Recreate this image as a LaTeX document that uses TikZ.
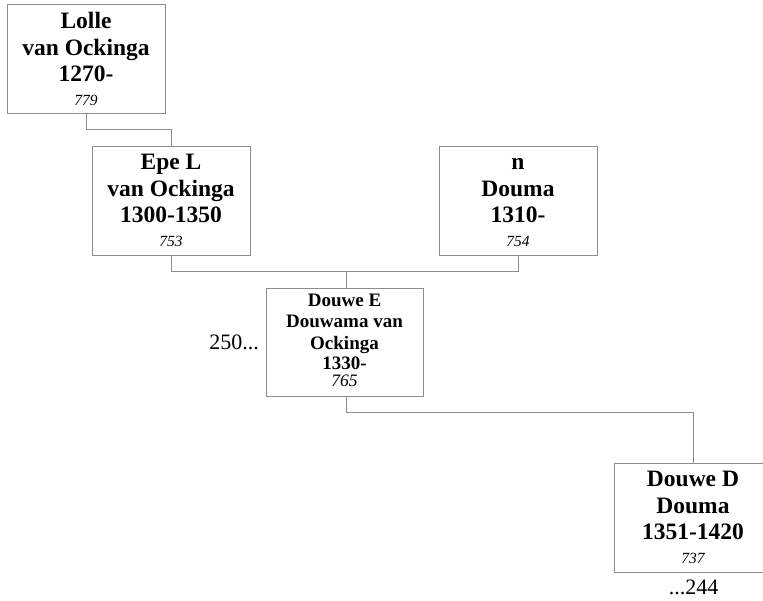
\documentclass[tikz,border=0pt]{standalone}
\usepackage{fontspec}
\setmainfont{Liberation Serif}
\begin{document}
\begin{tikzpicture}[x=1pt,y=-1pt,
  box/.style={draw=gray!90, line width=0.8pt, minimum width=158pt, minimum height=109pt, align=center, inner sep=0pt, font=\bfseries\fontsize{23.5}{26.5}\selectfont},
  sbox/.style={box, minimum width=157pt, minimum height=108pt, font=\bfseries\fontsize{19}{21}\selectfont},
  conn/.style={draw=gray!90, line width=0.8pt},
  plain/.style={inner sep=0pt, font=\fontsize{22}{24}\selectfont}]
\useasboundingbox (0,0) rectangle (763,601);
\newcommand{\nmb}[1]{{\mdseries\itshape\fontsize{15.5}{20}\selectfont #1}}
\newcommand{\snmb}[1]{{\mdseries\itshape\fontsize{17.5}{20}\selectfont #1}}
\node[box] (b1) at (86,59) {Lolle\\van Ockinga\\1270-\\[-2.5pt]\nmb{779}};
\node[box] (b2) at (171,200.5) {Epe L\\van Ockinga\\1300-1350\\[-2.5pt]\nmb{753}};
\node[box] (b3) at (518,200.5) {\vphantom{L}n\\Douma\\1310-\\[-2.5pt]\nmb{754}};
\node[sbox] (b4) at (344.5,342) {Douwe E\\Douwama van\\[1pt]Ockinga\\[-1pt]1330-\\[-4pt]\snmb{765}\rule[-3pt]{0pt}{0pt}};
\node[box] (b5) at (693,517.5) {Douwe D\\Douma\\1351-1420\\[-2.5pt]\nmb{737}};
\node[plain, anchor=base east] (l250) at (259,350) {250...};
\node[plain, anchor=base] (l244) at (693.5,594) {...244};
\draw[conn] (b1.south) -- ++(0,16) -| (b2.north);
\draw[conn] (b2.south) -- ++(0,16) -| (b3.south);
\draw[conn] (b4.north) ++(1.5,0) -- ++(0,-17);
\draw[conn] (b4.south) ++(1.5,0) -- ++(0,16) -| (b5.north);
\end{tikzpicture}
\end{document}
